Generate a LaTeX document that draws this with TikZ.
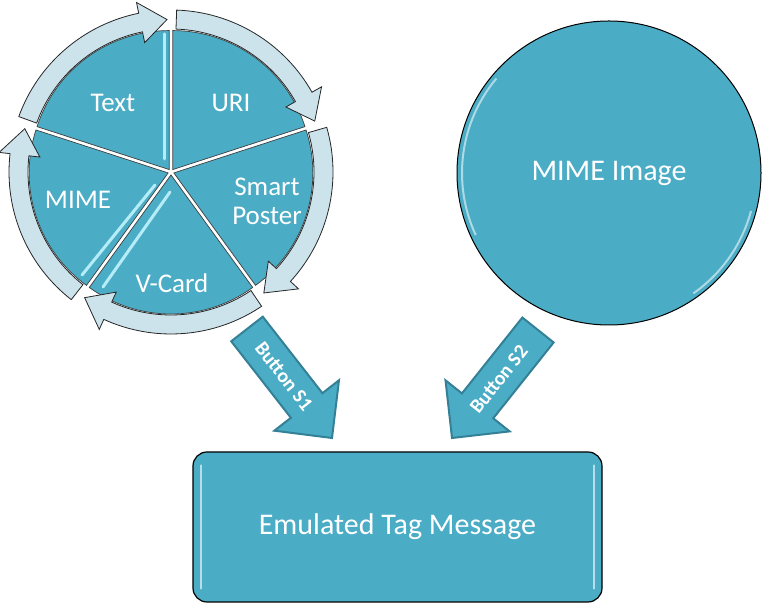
\documentclass[tikz,border=0pt]{standalone}
\usepackage{fontspec}
\setmainfont{Carlito}
\usetikzlibrary{positioning,calc}
\definecolor{SegTeal}{RGB}{75,172,198}
\definecolor{SegEdge}{RGB}{52,128,150}
\definecolor{RingBlue}{RGB}{204,227,236}
\definecolor{GlossCyan}{RGB}{180,236,247}

% ring arrow between two angles around the pie centre (clockwise)
\newcommand{\ringarrow}[2]{%
  \filldraw[ringarrow] (#1:162) arc[start angle=#1, end angle=#2+10, radius=162]
    -- (#2+10:173) -- (#2:152.5) -- (#2+10:132) -- (#2+10:143)
    arc[start angle=#2+10, end angle=#1, radius=143] -- cycle;}
% exploded pie slice
\newcommand{\pieslice}[2]{%
  \filldraw[slice, shift={({(#1+#2)/2}:3)}] (0,0) -- (#1:139)
    arc[start angle=#1, end angle=#2, radius=139] -- cycle;}
% block arrow from tail to tip
\newcommand{\buttonarrow}[2]{%
  \coordinate (hb) at ($(#1)!97pt!(#2)$);
  \filldraw[btnarrow] ($(#1)!20pt!-90:(#2)$) -- ($(hb)!20pt!-90:(#2)$)
    -- ($(hb)!41pt!-90:(#2)$) -- (#2) -- ($(hb)!41pt!90:(#2)$)
    -- ($(hb)!20pt!90:(#2)$) -- ($(#1)!20pt!90:(#2)$) -- cycle;}

\begin{document}
\begin{tikzpicture}[x=1pt, y=1pt,
  every node/.style={text=white, inner sep=0pt},
  slice/.style={fill=SegTeal, draw=black!75, line width=0.7},
  ringarrow/.style={fill=RingBlue, draw=black!85, line width=0.8},
  btnarrow/.style={fill=SegTeal, draw=SegEdge, line width=2},
  gloss/.style={GlossCyan, line width=3, line cap=round},
  seglabel/.style={font=\fontsize{27}{29}\selectfont, align=center},
  btnlabel/.style={font=\fontsize{20}{22}\selectfont\bfseries}]
  \useasboundingbox (0,0) rectangle (776,609);

  % pie with ring arrows
  \begin{scope}[shift={(171,437)}]
    \coordinate (pie) at (0,0);
    \pieslice{90}{162}
    \pieslice{18}{90}
    \pieslice{-54}{18}
    \pieslice{-126}{-54}
    \pieslice{162}{234}
    \ringarrow{160}{91.5}
    \ringarrow{88}{19.5}
    \ringarrow{16}{-52.5}
    \ringarrow{-56}{-124.5}
    \ringarrow{232}{163.5}
  \end{scope}
  \draw[gloss] (164,575) -- (164,450);
  \draw[gloss] (155,424) -- (82,334);
  \draw[gloss] (170,417) -- (103,322);

  \node[seglabel] (seg-text)  at (113,506) {Text};
  \node[seglabel] (seg-uri)   at (231,506) {URI};
  \node[seglabel] (seg-smart) at (267,408) {Smart\\Poster};
  \node[seglabel] (seg-mime)  at (78,409)  {MIME};
  \node[seglabel] (seg-vcard) at (172,326) {V-Card};

  % MIME image circle
  \node[circle, minimum size=304pt, fill=SegTeal, draw=black, line width=1,
        font=\fontsize{30}{32}\selectfont] (mimeimg) at (609,436) {MIME Image};
  \draw[white!55!SegTeal, line width=2] ($(mimeimg.center)+(140:147)$)
    arc[start angle=140, end angle=205, radius=147];
  \draw[white!55!SegTeal, line width=2] ($(mimeimg.center)+(-15:147)$)
    arc[start angle=-15, end angle=-55, radius=147];

  % emulated tag box
  \node[fill=SegTeal, draw=black, line width=1.2, rounded corners=14pt,
        minimum width=409pt, minimum height=150pt,
        font=\fontsize{30}{32}\selectfont] (tagmsg) at (397.5,82) {Emulated Tag Message};
  \draw[white!60!SegTeal, line width=2, line cap=round]
    ([xshift=9pt,yshift=-14pt]tagmsg.north west) -- ([xshift=9pt,yshift=14pt]tagmsg.south west);
  \draw[white!60!SegTeal, line width=2, line cap=round]
    ([xshift=-9pt,yshift=-14pt]tagmsg.north east) -- ([xshift=-9pt,yshift=14pt]tagmsg.south east);

  % button arrows
  \coordinate (s1tail) at (247,280);
  \coordinate (s1tip)  at (332,171);
  \coordinate (s2tail) at (538,279);
  \coordinate (s2tip)  at (452,171);
  \buttonarrow{s1tail}{s1tip}
  \buttonarrow{s2tail}{s2tip}
  \node[btnlabel, rotate=-52]  (s1label) at ($(s1tail)!60pt!(s1tip)$) {Button S1};
  \node[btnlabel, rotate=51.5] (s2label) at ($(s2tail)!63pt!(s2tip)$) {Button S2};
\end{tikzpicture}
\end{document}
